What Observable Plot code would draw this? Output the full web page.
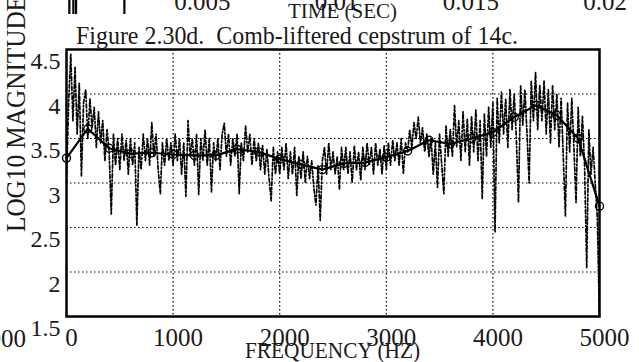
<!DOCTYPE html>
<html><head><meta charset="utf-8">
<script src="https://cdn.jsdelivr.net/npm/d3@7"></script>
<script src="https://cdn.jsdelivr.net/npm/@observablehq/plot@0.6"></script>
<style>
body{margin:0;background:#fff;}
svg text{white-space:pre;}
</style>
</head><body><div id="chart"></div>
<script>
// ---- data ----
const freqStep = 20; // Hz between raw spectrum samples
const rawLogMag = [
  3.00,3.90,4.45,3.70,4.30,3.55,4.12,3.08,3.90,4.05,
  3.50,3.95,3.62,3.85,3.40,3.80,3.45,3.70,3.25,3.60,
  3.35,2.65,3.55,3.20,3.50,3.15,3.55,3.25,3.48,3.10,
  3.50,3.20,3.45,2.52,3.40,3.15,3.55,3.25,3.50,3.20,
  3.68,3.30,3.55,3.15,2.88,3.45,3.20,3.50,3.25,3.45,
  3.20,3.55,3.25,3.50,3.10,3.45,2.85,3.70,3.30,3.50,
  3.20,3.55,2.87,3.50,3.25,3.60,3.20,3.50,2.90,3.45,
  3.25,3.50,3.15,3.55,3.67,3.30,3.55,3.20,3.50,3.30,
  3.55,2.88,3.45,3.25,3.64,3.35,3.55,3.20,3.50,3.25,
  3.45,3.15,3.42,3.10,3.38,3.05,2.80,3.40,3.10,3.35,
  3.10,3.40,3.15,3.45,3.05,3.35,3.10,3.40,2.86,3.30,
  3.05,3.35,3.00,3.30,3.05,3.25,2.95,2.75,3.20,2.58,
  3.25,3.40,3.10,3.45,3.15,3.35,3.10,3.30,2.93,3.40,
  3.15,3.40,3.10,3.35,3.00,3.42,3.15,3.35,3.03,3.40,
  3.15,3.45,3.20,3.40,3.10,3.45,3.20,3.38,3.10,3.42,
  3.15,3.45,3.20,3.48,3.25,3.45,3.20,3.50,3.10,3.45,
  3.35,3.60,3.40,3.68,3.50,3.74,3.45,3.62,3.35,3.55,
  3.30,3.50,3.10,3.45,2.95,3.55,3.20,2.88,3.65,3.30,
  3.60,3.30,3.87,3.40,3.70,3.25,3.80,3.35,3.72,3.20,
  3.75,3.35,3.82,3.25,3.70,2.82,3.78,3.30,3.85,3.40,
  3.90,2.45,3.95,3.45,4.02,3.55,3.95,3.40,4.05,3.60,
  4.00,3.50,2.78,4.10,3.65,4.05,3.55,3.00,4.15,3.70,
  4.24,3.60,4.10,3.70,4.15,3.55,4.05,3.45,4.10,3.60,
  4.00,3.40,3.95,3.30,2.63,3.90,3.35,3.95,3.40,2.78,
  3.85,3.30,3.75,3.20,2.05,3.60,3.10,3.40,3.00,2.60,
  1.45
];
const smoothFreq = [0,200,400,600,800,1000,1200,1400,1600,1800,2000,2200,2400,2600,2800,3000,3200,3400,3600,3800,4000,4200,4400,4600,4800,5000];
const smoothLogMag = [3.28,3.61,3.39,3.33,3.34,3.32,3.31,3.31,3.38,3.35,3.27,3.21,3.15,3.22,3.23,3.29,3.36,3.48,3.44,3.50,3.57,3.74,3.87,3.76,3.50,2.74];
const xTicks = [0,1000,2000,3000,4000,5000];
const xTickLabels = ["0","1000","2000","3000","4000","5000"];
const yTicks = [1.5,2,2.5,3,3.5,4,4.5];
const yTickLabels = ["1.5","2","2.5","3","3.5","4","4.5"];
const title = "Figure 2.30d.  Comb-liftered cepstrum of 14c.";
const xLabel = "FREQUENCY (HZ)";
const yLabel = "LOG10 MAGNITUDE";
// fragments of the neighbouring figures cut by the page edges
const upperTicks = [0.005,0.01,0.015,0.02];
const upperTickLabels = ["0.005","0.01","0.015","0.02"];
const upperLabel = "TIME (SEC)";
const upperSpikeTimes = [0.00005,0.0002,0.0003,0.0021];
const leftNeighbourLabel = "5000";

// ---- build ----
const raw = rawLogMag.map((v,i)=>({f:i*freqStep, v}));
const smooth = smoothFreq.map((f,i)=>({f, v:smoothLogMag[i]}));
const FONT = "'Liberation Serif', 'Times New Roman', serif";

const chart = Plot.plot({
  width: 639, height: 362,
  marginLeft: 66, marginRight: 40, marginTop: 49, marginBottom: 46,
  style: {fontFamily: FONT, background: "white", color: "black", overflow: "visible"},
  x: {domain: [0,5000], axis: null},
  y: {domain: [1.5,4.5], axis: null},
  marks: [
    Plot.gridX(xTicks, {stroke: "black", strokeOpacity: 1, strokeWidth: 1.2, strokeDasharray: "1.5,2.5"}),
    Plot.gridY(yTicks, {stroke: "black", strokeOpacity: 1, strokeWidth: 1.2, strokeDasharray: "1.5,2.5"}),
    Plot.line(raw, {x: "f", y: "v", stroke: "black", strokeWidth: 1.7, strokeDasharray: "4,2,1.5,2", clip: true}),
    Plot.line(smooth, {x: "f", y: "v", stroke: "black", strokeWidth: 2.2}),
    Plot.dot(smooth, {x: "f", y: "v", r: 4, stroke: "black", strokeWidth: 1.4, fill: "none"}),
    Plot.frame({stroke: "black", strokeWidth: 2.5}),
    Plot.text(xTicks, {x: d=>d, text: (d,i)=>xTickLabels[i], frameAnchor: "bottom", lineAnchor: "top", dy: 12, dx: 5, fontSize: 25, fill: "#1a1a1a"}),
    Plot.text(yTicks, {y: d=>d, text: (d,i)=>yTickLabels[i], frameAnchor: "left", textAnchor: "end", dx: -6, dy: 12, fontSize: 24, fill: "#1a1a1a"})
  ]
});
document.getElementById("chart").appendChild(chart);

const svg = d3.select(chart);
function addText(txt, x, y, size, len, opts = {}) {
  const t = svg.append("text").attr("x", x).attr("y", y)
    .attr("font-family", FONT).attr("font-size", size).attr("fill", "#1a1a1a")
    .attr("text-anchor", opts.anchor || "start").text(txt);
  if (len) t.attr("textLength", len).attr("lengthAdjust", "spacingAndGlyphs");
  if (opts.rotate) t.attr("transform", `rotate(${opts.rotate} ${x} ${y})`);
  return t;
}
// title and axis labels
addText(title, 76, 44, 26, 442);
addText(xLabel, 245, 358, 24, 175);
addText(yLabel, 25, 232, 28, 236, {rotate: -90});
addText(leftNeighbourLabel, 26, 347, 25, null, {anchor: "end"});

// fragment of the upper figure (time axis)
const tx = d3.scaleLinear().domain([0, 0.02]).range([68, 605]);
upperTicks.forEach((t,i)=> addText(upperTickLabels[i], tx(t), 10, 25, null, {anchor: "middle"}));
svg.append("g").selectAll("line").data(upperSpikeTimes).join("line")
  .attr("x1", d=>tx(d)).attr("x2", d=>tx(d)).attr("y1", 0).attr("y2", 14)
  .attr("stroke", "black").attr("stroke-width", 2.2);
addText(upperLabel, 288, 18, 21, 109);
</script>
</body></html>
